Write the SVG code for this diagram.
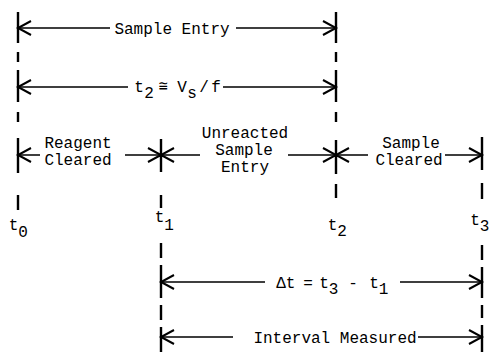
<svg xmlns="http://www.w3.org/2000/svg" width="494" height="354" viewBox="0 0 494 354">
<style>
.v{stroke:#000;stroke-width:2.4;fill:none}
.h{stroke:#000;stroke-width:1.5;fill:none}
.ah{stroke:#000;stroke-width:2;fill:none;stroke-linejoin:miter}
text{font-family:"Liberation Mono","DejaVu Sans Mono",monospace;font-size:16px;fill:#000;text-anchor:middle}
.sym{font-family:"DejaVu Sans Mono","DejaVu Sans",monospace;font-size:15px}
</style>
<rect width="494" height="354" fill="#fff"/>
<g id="t0">
<path class="v" d="M18 12V43M18 52V62M18 70V102M18 112V122M18 138V173M18 195V210"/>
<text x="13.5" y="230">t</text><text x="23.1" y="237">0</text>
</g>
<g id="t1">
<path class="v" d="M161 139V172M161 195V208M161 243V258M161 265V298M161 305V320M161 327V352"/>
<text x="159.5" y="222">t</text><text x="169.1" y="230">1</text>
</g>
<g id="t2">
<path class="v" d="M336 12V43M336 52V62M336 70V102M336 112V122M336 140V174M336 184V198"/>
<text x="332.5" y="230">t</text><text x="342.1" y="236">2</text>
</g>
<g id="t3">
<path class="v" d="M482 137V170M482 183V199M482 245V260M482 267V298M482 305V318M482 325V352"/>
<text x="475" y="225">t</text><text x="484.6" y="231">3</text>
</g>
<g id="connectors">
<path class="h" d="M18 28H110M236 28H336"/>
<path class="ah" d="M31 21L18 28L31 35M323 21L336 28L323 35"/>
<path class="h" d="M18 87H128M223 87H336"/>
<path class="ah" d="M31 80L18 87L31 94M323 80L336 87L323 94"/>
<path class="h" d="M18 155H40M125 155H161M161 155H200M288 155H336M336 155H368M445 155H482"/>
<path class="ah" d="M31 148L18 155L31 162M148 148L161 155L148 162M174 148L161 155L174 162M323 148L336 155L323 162M349 148L336 155L349 162M469 148L482 155L469 162"/>
<path class="h" d="M161 282H265M400 282H482"/>
<path class="ah" d="M174 275L161 282L174 289M469 275L482 282L469 289"/>
<path class="h" d="M161 337H233M418 337H482"/>
<path class="ah" d="M174 330L161 337L174 344M469 330L482 337L469 344"/>
</g>
<g id="label-sample-entry"><text x="172" y="34">Sample Entry</text></g>
<g id="label-t2-eq">
<text x="139" y="92">t</text><text x="149" y="98">2</text><text class="sym" x="163" y="91">≅</text><text x="182" y="92">V</text><text x="192" y="98">s</text><text x="204" y="92">/</text><text x="216" y="92">f</text>
</g>
<g id="label-reagent-cleared"><text x="78" y="148">Reagent</text><text x="78" y="165">Cleared</text></g>
<g id="label-unreacted"><text x="245" y="138">Unreacted</text><text x="244" y="155">Sample</text><text x="245" y="172">Entry</text></g>
<g id="label-sample-cleared"><text x="411" y="148">Sample</text><text x="409" y="165">Cleared</text></g>
<g id="label-dt">
<text x="281" y="288">Δ</text><text x="290.6" y="288">t</text><text x="308" y="288">=</text><text x="324" y="288">t</text><text x="333.6" y="294">3</text><text x="353" y="288">-</text><text x="374" y="288">t</text><text x="383.6" y="294">1</text>
</g>
<g id="label-interval"><text x="335" y="343">Interval Measured</text></g>
</svg>
